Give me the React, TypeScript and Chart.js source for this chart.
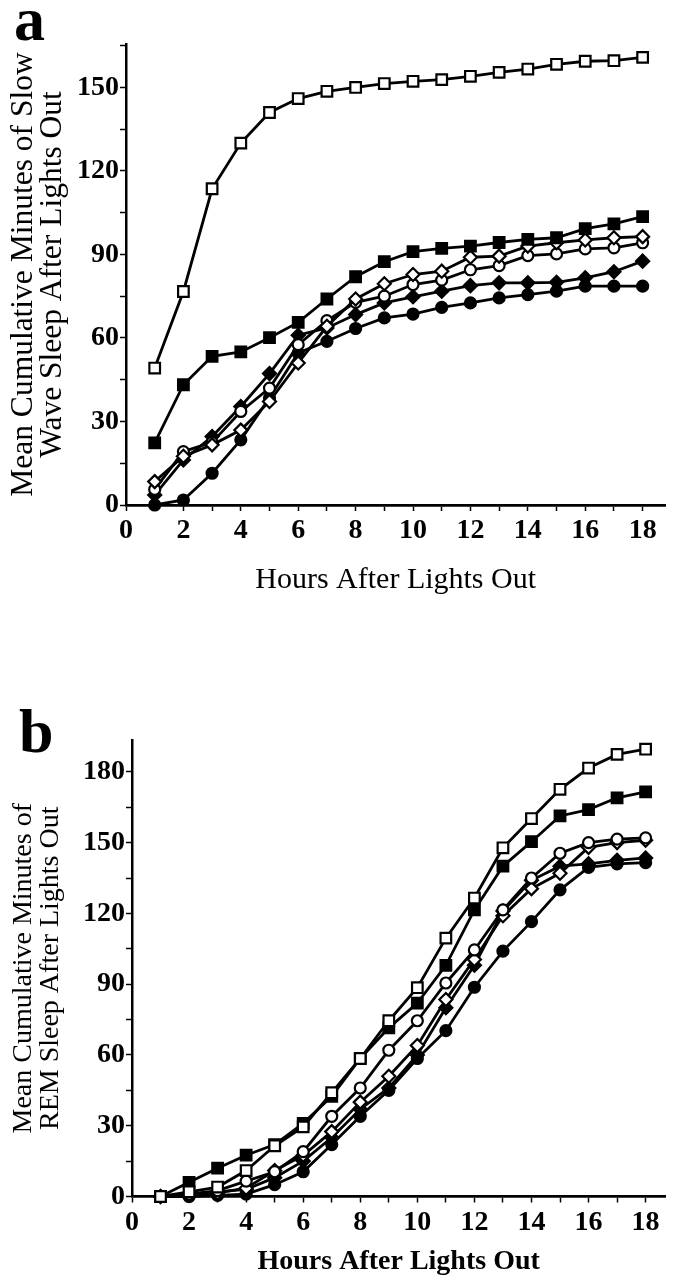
import React, { useEffect, useRef } from 'react';
import { Chart, registerables } from 'chart.js';

Chart.register(...registerables);

// ---------- data ----------
const hours = [1, 2, 3, 4, 5, 6, 7, 8, 9, 10, 11, 12, 13, 14, 15, 16, 17, 18];
const xTickValues = [0, 1, 2, 3, 4, 5, 6, 7, 8, 9, 10, 11, 12, 13, 14, 15, 16, 17, 18];
const yTickValuesA = [0, 15, 30, 45, 60, 75, 90, 105, 120, 135, 150, 165];
const yTickValuesB = [0, 15, 30, 45, 60, 75, 90, 105, 120, 135, 150, 165, 180];

// Panel a: slow wave sleep
const swsOpenSquare = [49.2, 76.7, 113.6, 130, 141, 146, 148.6, 150, 151.4, 152.2, 152.8, 154, 155.4, 156.6, 158.3, 159.4, 159.6, 160.8];
const swsFilledSquare = [22.3, 43.2, 53.4, 55, 60.1, 65.6, 74, 82, 87.4, 91, 92.2, 93, 94.3, 95.4, 96, 99.3, 101, 103.6];
const swsOpenDiamond = [8.4, 17.5, 21.6, 26.9, 37.2, 51, 64.2, 74, 79.5, 82.8, 84, 89, 89.4, 93, 94.2, 95.2, 96, 96.4];
const swsOpenCircle = [5.6, 19.2, 22.5, 33.6, 42, 57.6, 66.2, 72.8, 75, 79.2, 80.8, 84.5, 86, 89.6, 90.2, 92, 92.4, 94.2];
const swsFilledDiamond = [3.6, 16.2, 24.6, 35.4, 47.2, 61, 63.6, 68.4, 72.6, 74.8, 76.8, 78.8, 79.8, 79.8, 80, 81.6, 83.8, 87.6];
const swsFilledCircle = [0, 1.8, 11.4, 23.4, 38.5, 54.6, 58.8, 63.4, 67.2, 68.6, 71, 72.6, 74.4, 75.6, 76.8, 78.6, 78.6, 78.6];

// Panel b: REM sleep
const remOpenSquare = [0, 2, 4, 11, 21.5, 29.5, 44, 58.5, 74.5, 88.5, 109.5, 126.5, 147.8, 160.2, 172.6, 181.6, 187.4, 189.6];
const remFilledSquare = [0, 6, 12, 17.5, 22, 31, 42.5, 58.5, 71.5, 82, 98, 121.5, 140, 150.4, 161.3, 164, 169, 171.5];
const remOpenCircle = [0, 1, 2.5, 6.5, 10.5, 19, 34, 46, 62, 74.5, 90.5, 104.5, 121.5, 135, 145.5, 150, 151.5, 152];
const remOpenDiamond = [0, 0.5, 1.5, 3.5, 11, 17.5, 27.5, 40, 51, 64, 83.5, 100.5, 119, 130.5, 137, 148, 150, 151];
const remFilledDiamond = [0, 1, 2, 3, 8, 15, 25, 37, 46, 60, 80, 98, 121, 134, 140, 141, 142.5, 143.5];
const remFilledCircle = [0, 0, 0.5, 1, 5, 10.5, 22, 34, 45, 58.5, 70.3, 88.7, 104, 116.5, 130, 139.5, 141, 141.5];

const FONT = "'Liberation Serif', 'Times New Roman', serif";

type Shape = 'rect' | 'circle' | 'rectRot';

function dataset(label: string, values: number[], shape: Shape, filled: boolean) {
  const radius = shape === 'rect' ? 7.5 : shape === 'rectRot' ? 6.5 : 5.5;
  return {
    label,
    data: hours.map((h, i) => ({ x: h, y: values[i] })),
    borderColor: '#000',
    borderWidth: 2.8,
    pointStyle: shape,
    pointRadius: radius,
    pointBorderWidth: 2.2,
    pointBorderColor: '#000',
    pointBackgroundColor: filled ? '#000' : '#fff',
    backgroundColor: filled ? '#000' : '#fff',
    tension: 0,
    clip: false as any,
  };
}

interface PanelOpts {
  datasets: any[];
  yMax: number;
  xMax: number;
  yTicks: number[];
  axisLeft: number;
  padTop: number;
  xScaleHeight: number;
  yTitle: string[];
  yTitleSize: number;
  yTitleLine: number;
  yTitlePad: number;
  xTitleSize: number;
  xTitleWeight: 'normal' | 'bold';
  xTitlePad: number;
}

function makeConfig(o: PanelOpts): any {
  return {
    type: 'line',
    data: { datasets: o.datasets },
    options: {
      responsive: false,
      animation: false,
      devicePixelRatio: 1,
      layout: { padding: { top: o.padTop, left: 0, right: 0, bottom: 0 } },
      plugins: { legend: { display: false }, tooltip: { enabled: false } },
      scales: {
        x: {
          type: 'linear',
          min: 0,
          max: o.xMax,
          afterBuildTicks: (s: any) => {
            s.ticks = xTickValues.map((v) => ({ value: v }));
          },
          afterFit: (s: any) => {
            s.height = o.xScaleHeight;
          },
          ticks: {
            autoSkip: false,
            maxRotation: 0,
            padding: 3,
            color: '#000',
            font: { family: FONT, size: 28, weight: 'bold' },
            callback: (v: number) => (v % 2 === 0 ? String(v) : ''),
          },
          grid: {
            display: true,
            drawOnChartArea: false,
            drawTicks: true,
            tickLength: 6,
            tickColor: '#000',
            tickWidth: 1.5,
          },
          border: { display: true, color: '#000', width: 2.8 },
          title: {
            display: true,
            text: 'Hours After Lights Out',
            color: '#000',
            font: { family: FONT, size: o.xTitleSize, weight: o.xTitleWeight },
            padding: { top: 0, bottom: o.xTitlePad },
          },
        },
        y: {
          type: 'linear',
          min: 0,
          max: o.yMax,
          afterBuildTicks: (s: any) => {
            s.ticks = o.yTicks.map((v) => ({ value: v }));
          },
          afterFit: (s: any) => {
            s.width = o.axisLeft;
          },
          ticks: {
            autoSkip: false,
            padding: 1,
            color: '#000',
            font: { family: FONT, size: 28, weight: 'bold' },
            callback: (v: number) => (v % 30 === 0 ? String(v) : ''),
          },
          grid: {
            display: true,
            drawOnChartArea: false,
            drawTicks: true,
            tickLength: 6,
            tickColor: '#000',
            tickWidth: 1.5,
          },
          border: { display: true, color: '#000', width: 2.5 },
          title: {
            display: true,
            text: o.yTitle,
            color: '#000',
            font: { family: FONT, size: o.yTitleSize, lineHeight: o.yTitleLine + 'px' },
            padding: { top: o.yTitlePad, bottom: 0 },
          },
        },
      },
    },
  };
}

export default function App() {
  const refA = useRef<HTMLCanvasElement>(null);
  const refB = useRef<HTMLCanvasElement>(null);

  useEffect(() => {
    document.body.style.margin = '0';
    const a = new Chart(
      refA.current as HTMLCanvasElement,
      makeConfig({
        datasets: [
          dataset('Open square', swsOpenSquare, 'rect', false),
          dataset('Filled square', swsFilledSquare, 'rect', true),
          dataset('Open diamond', swsOpenDiamond, 'rectRot', false),
          dataset('Open circle', swsOpenCircle, 'circle', false),
          dataset('Filled diamond', swsFilledDiamond, 'rectRot', true),
          dataset('Filled circle', swsFilledCircle, 'circle', true),
        ],
        yMax: 165.6,
        xMax: 18.79,
        yTicks: yTickValuesA,
        axisLeft: 126,
        padTop: 44,
        xScaleHeight: 135,
        yTitle: ['Mean Cumulative Minutes of Slow', 'Wave Sleep After Lights Out'],
        yTitleSize: 31.5,
        yTitleLine: 29,
        yTitlePad: 9.5,
        xTitleSize: 30,
        xTitleWeight: 'normal',
        xTitlePad: 42,
      })
    );
    const b = new Chart(
      refB.current as HTMLCanvasElement,
      makeConfig({
        datasets: [
          dataset('Open square', remOpenSquare, 'rect', false),
          dataset('Filled square', remFilledSquare, 'rect', true),
          dataset('Open circle', remOpenCircle, 'circle', false),
          dataset('Open diamond', remOpenDiamond, 'rectRot', false),
          dataset('Filled diamond', remFilledDiamond, 'rectRot', true),
          dataset('Filled circle', remFilledCircle, 'circle', true),
        ],
        yMax: 193.5,
        xMax: 18.69,
        yTicks: yTickValuesB,
        axisLeft: 132,
        padTop: 100,
        xScaleHeight: 84.5,
        yTitle: ['Mean Cumulative Minutes of', 'REM Sleep After Lights Out'],
        yTitleSize: 28,
        yTitleLine: 27,
        yTitlePad: 10.5,
        xTitleSize: 28,
        xTitleWeight: 'bold',
        xTitlePad: 2,
      })
    );
    return () => {
      a.destroy();
      b.destroy();
    };
  }, []);

  const labelStyle: React.CSSProperties = {
    position: 'absolute',
    fontFamily: FONT,
    fontWeight: 'bold',
    fontSize: 62,
    lineHeight: '62px',
    color: '#000',
    margin: 0,
  };

  return (
    <div style={{ position: 'relative', width: 675, height: 1281, background: '#fff', overflow: 'hidden' }}>
      <canvas ref={refA} width={675} height={640} style={{ position: 'absolute', left: 0, top: 0 }} />
      <canvas ref={refB} width={675} height={641} style={{ position: 'absolute', left: 0, top: 640 }} />
      <div style={{ ...labelStyle, left: 14, top: -12 }}>a</div>
      <div style={{ ...labelStyle, left: 19, top: 700 }}>b</div>
    </div>
  );
}
